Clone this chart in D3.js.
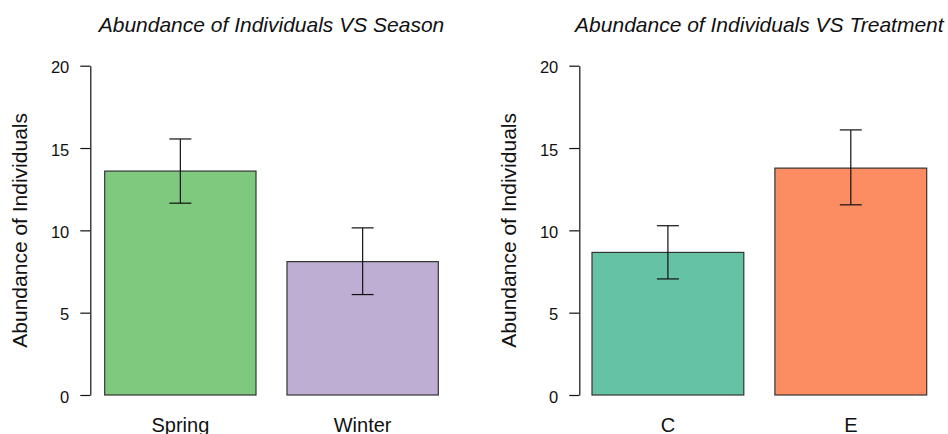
<!DOCTYPE html>
<html>
<head>
<meta charset="utf-8">
<script src="https://cdn.jsdelivr.net/npm/d3@7"></script>
<style>
  body { margin: 0; background: #fff; }
  text { font-family: "Liberation Sans", Arial, sans-serif; fill: #111; }
</style>
</head>
<body>
<svg id="chart" width="948" height="434"></svg>
<script>
// values
var seasonNames = ["Spring", "Winter"];
var seasonMeans = [13.6, 8.1];
var seasonLow = [11.65, 6.1];
var seasonHigh = [15.55, 10.15];
var seasonColors = ["#7FC97F", "#BEAED4"];

var treatNames = ["C", "E"];
var treatMeans = [8.66, 13.78];
var treatLow = [7.05, 11.55];
var treatHigh = [10.28, 16.1];
var treatColors = ["#66C2A5", "#FC8D62"];

var yTicks = [0, 5, 10, 15, 20];
var yLabel = "Abundance of Individuals";

var svg = d3.select("#chart");

//Draw one barplot panel with error bars
function drawPanel(p) {
    var g = svg.append("g");

    var y = d3.scaleLinear().domain([0, 20]).range([395, 65.7]);
    var x = d3.scaleBand().domain(p.names)
        .range([p.x0, p.x1])
        .paddingInner(0.17)
        .paddingOuter(0);

    var data = p.names.map(function(n, i) {
        return { name: n, mean: p.means[i], lo: p.low[i], hi: p.high[i], color: p.colors[i] };
    });

    // y axis, R style: line from first to last tick, ticks out to the left
    var yAxis = d3.axisLeft(y).tickValues(yTicks).tickSize(10).tickPadding(11).tickSizeOuter(0);
    var ax = g.append("g")
        .attr("transform", "translate(" + p.axisX + ",0)")
        .call(yAxis);
    ax.select(".domain").attr("stroke", "#111").attr("stroke-width", 1.2);
    ax.selectAll(".tick line").attr("stroke", "#111").attr("stroke-width", 1.2);
    ax.selectAll(".tick text")
        .attr("dy", null)
        .attr("y", 7)
        .style("font-size", "16.5px")
        .style("font-family", "'Liberation Sans', Arial, sans-serif")
        .attr("fill", "#111");

    g.selectAll(".bar")
        .data(data)
        .enter().append("rect")
        .attr("class", "bar")
        .attr("x", function(d) { return x(d.name); })
        .attr("y", function(d) { return y(d.mean); })
        .attr("width", x.bandwidth())
        .attr("height", function(d) { return y(0) - y(d.mean); })
        .attr("fill", function(d) { return d.color; })
        .attr("stroke", "#333")
        .attr("stroke-width", 1.2);

    var capW = 11;
    var err = g.selectAll(".err")
        .data(data)
        .enter().append("g")
        .attr("class", "err")
        .attr("stroke", "#111")
        .attr("stroke-width", 1.2);
    err.append("line")
        .attr("x1", function(d) { return x(d.name) + x.bandwidth() / 2; })
        .attr("x2", function(d) { return x(d.name) + x.bandwidth() / 2; })
        .attr("y1", function(d) { return y(d.lo); })
        .attr("y2", function(d) { return y(d.hi); });
    err.append("line")
        .attr("x1", function(d) { return x(d.name) + x.bandwidth() / 2 - capW; })
        .attr("x2", function(d) { return x(d.name) + x.bandwidth() / 2 + capW; })
        .attr("y1", function(d) { return y(d.hi); })
        .attr("y2", function(d) { return y(d.hi); });
    err.append("line")
        .attr("x1", function(d) { return x(d.name) + x.bandwidth() / 2 - capW; })
        .attr("x2", function(d) { return x(d.name) + x.bandwidth() / 2 + capW; })
        .attr("y1", function(d) { return y(d.lo); })
        .attr("y2", function(d) { return y(d.lo); });

    // category names under bars (no axis line, like barplot)
    g.selectAll(".xlab")
        .data(data)
        .enter().append("text")
        .attr("class", "xlab")
        .attr("x", function(d) { return x(d.name) + x.bandwidth() / 2; })
        .attr("y", 431.5)
        .attr("text-anchor", "middle")
        .style("font-size", "20px")
        .text(function(d) { return d.name; });

    g.append("text")
        .attr("transform", "translate(" + (p.axisX - 63.5) + "," + y(10) + ") rotate(-90)")
        .attr("text-anchor", "middle")
        .style("font-size", "21px")
        .text(yLabel);

    g.append("text")
        .attr("x", (p.x0 + p.x1) / 2)
        .attr("y", 31.5)
        .attr("text-anchor", "middle")
        .style("font-size", "21px")
        .style("font-style", "italic")
        .text(p.title);
}

drawPanel({
    names: seasonNames, means: seasonMeans, low: seasonLow, high: seasonHigh, colors: seasonColors,
    axisX: 90.3, x0: 104.7, x1: 438.3,
    title: "Abundance of Individuals VS Season"
});

drawPanel({
    names: treatNames, means: treatMeans, low: treatLow, high: treatHigh, colors: treatColors,
    axisX: 579.3, x0: 592, x1: 926.7,
    title: "Abundance of Individuals VS Treatment"
});
</script>
</body>
</html>
